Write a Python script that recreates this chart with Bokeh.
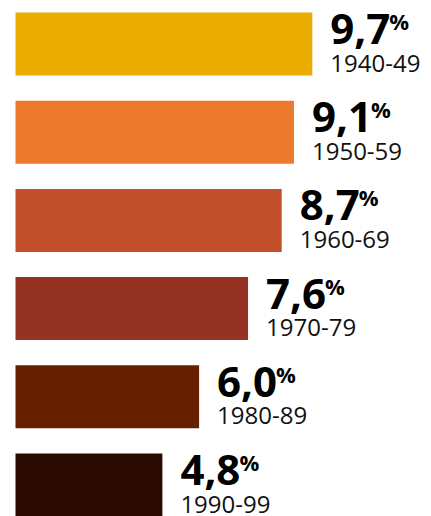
from bokeh.plotting import figure
from bokeh.models import Range1d, ColumnDataSource
from bokeh.core.properties import value
from bokeh.embed import file_html
from bokeh.resources import INLINE

decades = ["1940-49", "1950-59", "1960-69", "1970-79", "1980-89", "1990-99"]
rates = [9.7, 9.1, 8.7, 7.6, 6.0, 4.8]
rate_labels = ["9,7", "9,1", "8,7", "7,6", "6,0", "4,8"]
colors = ["#EBAE00", "#EC7A2D", "#C2502A", "#943323", "#662000", "#2B0A02"]

W, H = 431, 516
px_per_unit = 30.6
x0_px = 15
pitch = 88.2
first_center_px = 43.5

src = ColumnDataSource(dict(
    y=list(range(len(rates))),
    rate=rates,
    label=rate_labels,
    decade=decades,
    color=colors,
    pct=["%"] * len(rates),
))

p = figure(width=W, height=H, output_backend="svg", toolbar_location=None,
           x_range=Range1d(-x0_px / px_per_unit, (W - x0_px) / px_per_unit),
           y_range=Range1d((H - first_center_px) / pitch, -first_center_px / pitch),
           min_border=0)
p.axis.visible = False
p.grid.visible = False
p.outline_line_color = None
p.background_fill_color = "white"
p.border_fill_color = "white"

p.hbar(y="y", left=0, right="rate", height=63 / pitch, fill_color="color",
       line_color=None, source=src)

p.text(x="rate", y="y", text="label", source=src, x_offset=18, y_offset=-15,
       text_font=value("Open Sans"), text_font_style="bold", text_font_size="42px",
       text_baseline="alphabetic", text_align="left", text_color="#000000")
p.text(x="rate", y="y", text="pct", source=src, x_offset=77, y_offset=-38,
       text_font=value("Open Sans"), text_font_style="bold", text_font_size="22px",
       text_baseline="top", text_align="left", text_color="#000000")
p.text(x="rate", y="y", text="decade", source=src, x_offset=18, y_offset=19,
       text_font=value("Open Sans"), text_font_size="24px",
       text_baseline="alphabetic", text_align="left", text_color="#111111")

open("out.html", "w").write(file_html(p, INLINE))
